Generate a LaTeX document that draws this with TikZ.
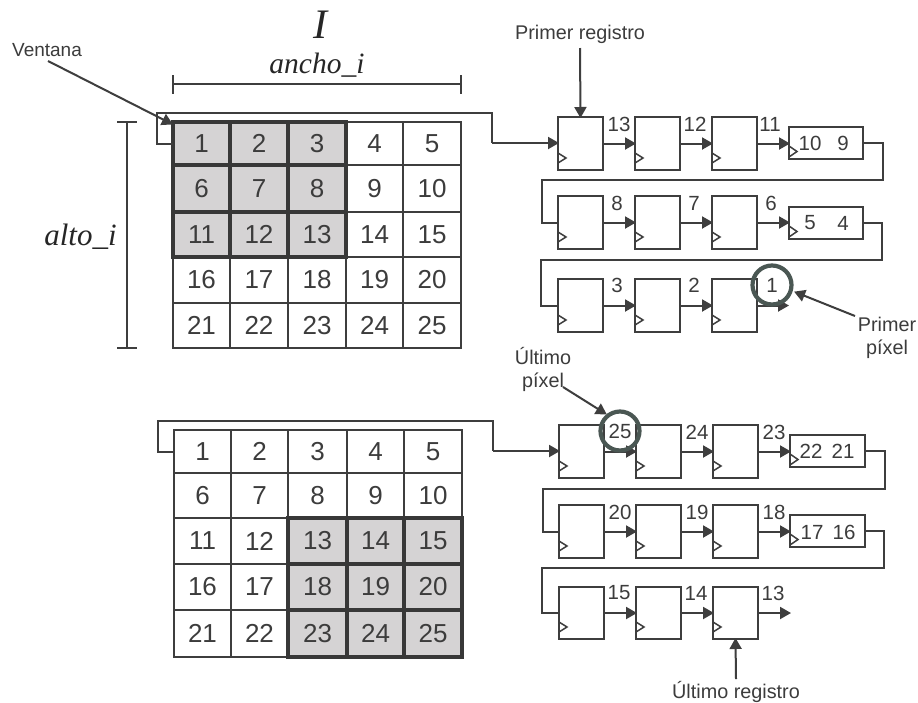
\documentclass[tikz,border=0pt]{standalone}
\usepackage{fontspec}
\setmainfont{Liberation Sans}
\newfontfamily\serifit[Scale=1]{Liberation Serif}
\usetikzlibrary{arrows.meta}
\definecolor{ink}{HTML}{3C3C3C}
\definecolor{lineink}{HTML}{3E3E3E}
\definecolor{cellgrey}{HTML}{D5D3D4}
\definecolor{ringc}{HTML}{4A5753}
\tikzset{
  x=1pt,y=-1pt,
  txt/.style={text=ink,font=\fontsize{19.8}{22}\selectfont,inner sep=0pt},
  num/.style={text=ink,font=\fontsize{20.5}{21}\selectfont,inner sep=0pt},
  wire/.style={draw=lineink,line width=2pt,line join=miter},
  arr/.style={wire,-{Triangle[length=11pt,width=12pt]},shorten >=-1pt},
  ringn/.style={draw=ringc,line width=4.2pt,circle,minimum size=39pt,inner sep=0pt,text=ink,font=\fontsize{20.5}{21}\selectfont},
  boxn/.style={draw=lineink,line width=2pt,anchor=north west,inner sep=0pt,outer sep=0pt,fill=white},
  clk/.style={draw=lineink,line width=1.5pt,fill=none},
  mathl/.style={text=black!85,inner sep=0pt,font=\serifit\itshape}
}
% cell: name, x1,y1,x2,y2, text
\newcommand{\pcell}[6]{\node[draw=lineink,line width=1.8pt,fill=white,inner sep=0pt,outer sep=0pt,anchor=north west,minimum width=#4pt-#2pt,minimum height=#5pt-#3pt,text=ink,font=\fontsize{26}{28}\selectfont] (#1) at (#2,#3) {#6};}
\newcommand{\scell}[6]{\node[draw=black!78,line width=3.4pt,fill=cellgrey,inner sep=0pt,outer sep=0pt,anchor=north west,minimum width=#4pt-#2pt,minimum height=#5pt-#3pt,text=ink,font=\fontsize{26}{28}\selectfont] (#1) at (#2,#3) {#6};}
% register: name, x1, y1, x2, y2
\newcommand{\rgst}[5]{\node[boxn,minimum width=#4pt-#2pt,minimum height=#5pt-#3pt] (#1) at (#2,#3) {};
  \draw[clk] (#2,#5-17) -- (#2+8,#5-12) -- (#2,#5-7);}
\newcommand{\wdrg}[5]{\node[boxn,minimum width=#4pt-#2pt,minimum height=#5pt-#3pt] (#1) at (#2,#3) {};
  \draw[clk] (#2,#3+19) -- (#2+8,#3+24.5) -- (#2,#3+30);}
\begin{document}
\begin{tikzpicture}
\useasboundingbox (0,0) rectangle (918,702);
\fill[white] (0,0) rectangle (918,702);

% ---------- top grid
\pcell{a4}{346}{122}{403}{165}{4}\pcell{a5}{403}{122}{461}{165}{5}
\pcell{a9}{346}{165}{403}{212}{9}\pcell{a10}{403}{165}{461}{212}{10}
\pcell{a14}{346}{212}{403}{257}{14}\pcell{a15}{403}{212}{461}{257}{15}
\pcell{a16}{173}{257}{230}{303}{16}\pcell{a17}{230}{257}{288}{303}{17}\pcell{a18}{288}{257}{346}{303}{18}\pcell{a19}{346}{257}{403}{303}{19}\pcell{a20}{403}{257}{461}{303}{20}
\pcell{a21}{173}{303}{230}{348}{21}\pcell{a22}{230}{303}{288}{348}{22}\pcell{a23}{288}{303}{346}{348}{23}\pcell{a24}{346}{303}{403}{348}{24}\pcell{a25}{403}{303}{461}{348}{25}
\scell{a1}{173}{122}{230}{165}{1}\scell{a2}{230}{122}{288}{165}{2}\scell{a3}{288}{122}{346}{165}{3}
\scell{a6}{173}{165}{230}{212}{6}\scell{a7}{230}{165}{288}{212}{7}\scell{a8}{288}{165}{346}{212}{8}
\scell{a11}{173}{212}{230}{257}{11}\scell{a12}{230}{212}{288}{257}{12}\scell{a13}{288}{212}{346}{257}{13}

% ---------- bottom grid
\pcell{b1}{174}{430}{231}{473}{1}\pcell{b2}{231}{430}{288}{473}{2}\pcell{b3}{288}{430}{347}{473}{3}\pcell{b4}{347}{430}{404}{473}{4}\pcell{b5}{404}{430}{462}{473}{5}
\pcell{b6}{174}{473}{231}{518}{6}\pcell{b7}{231}{473}{288}{518}{7}\pcell{b8}{288}{473}{347}{518}{8}\pcell{b9}{347}{473}{404}{518}{9}\pcell{b10}{404}{473}{462}{518}{10}
\pcell{b11}{174}{518}{231}{564}{11}\pcell{b12}{231}{518}{288}{564}{12}
\pcell{b16}{174}{564}{231}{610}{16}\pcell{b17}{231}{564}{288}{610}{17}
\pcell{b21}{174}{610}{231}{657}{21}\pcell{b22}{231}{610}{288}{657}{22}
\scell{b13}{288}{518}{347}{564}{13}\scell{b14}{347}{518}{404}{564}{14}\scell{b15}{404}{518}{462}{564}{15}
\scell{b18}{288}{564}{347}{610}{18}\scell{b19}{347}{564}{404}{610}{19}\scell{b20}{404}{564}{462}{610}{20}
\scell{b23}{288}{610}{347}{657}{23}\scell{b24}{347}{610}{404}{657}{24}\scell{b25}{404}{610}{462}{657}{25}

% ---------- registers, upper block
\rgst{r1}{558}{117}{603}{170}\rgst{r2}{635}{117}{680}{170}\rgst{r3}{712}{117}{757}{170}\wdrg{r4}{789}{127}{863}{159}
\rgst{r5}{558}{196}{603}{249}\rgst{r6}{635}{196}{680}{249}\rgst{r7}{712}{196}{757}{249}\wdrg{r8}{789}{207}{863}{239}
\rgst{r9}{558}{279}{603}{332}\rgst{r10}{635}{279}{680}{332}\rgst{r11}{712}{279}{757}{332}
% ---------- registers, lower block
\rgst{s1}{559}{425}{604}{478}\rgst{s2}{636}{425}{681}{478}\rgst{s3}{713}{425}{758}{478}\wdrg{s4}{790}{435}{865}{467}
\rgst{s5}{559}{505}{604}{558}\rgst{s6}{636}{505}{681}{558}\rgst{s7}{713}{505}{758}{558}\wdrg{s8}{790}{515}{865}{547}
\rgst{s9}{559}{587}{604}{639}\rgst{s10}{636}{587}{681}{639}\rgst{s11}{713}{587}{758}{639}

% ---------- helper coordinates
\coordinate (ta) at (157,113); \coordinate (tb) at (492,113);
\coordinate (tc) at (492,143);
\coordinate (ua) at (158,421); \coordinate (ub) at (493,421);
\coordinate (uc) at (493,451);
\coordinate (w1) at (883,180); \coordinate (w1l) at (542,180);
\coordinate (w2) at (882,260); \coordinate (w2l) at (541,260);
\coordinate (x1) at (885,489); \coordinate (x1l) at (543,489);
\coordinate (x2) at (884,568); \coordinate (x2l) at (542,568);
\coordinate (o1) at (788,305.5); \coordinate (o2) at (790,613);
\coordinate (vs) at (48,61); \coordinate (vt) at (172,124);
\coordinate (prs) at (580,48); \coordinate (urs) at (736,679);
\coordinate (ppS) at (855,316); \coordinate (ppT) at (795,292);
\coordinate (upS) at (563,387); \coordinate (upT) at (606,414);

% ---------- wires
\draw[wire] (a1.west) -| (ta) -- (tb) -- (tc);
\draw[arr] (tc) -- (r1.west |- tc);
\draw[wire] (b1.west) -| (ua) -- (ub) -- (uc);
\draw[arr] (uc) -- (s1.west |- uc);
\foreach \p/\q in {r1/r2,r2/r3,r3/r4,r5/r6,r6/r7,r7/r8,r9/r10,r10/r11,s2/s3,s3/s4,s5/s6,s6/s7,s7/s8,s9/s10,s10/s11,s1/s2}
  \draw[arr] (\p.east) -- (\q.west |- \p.east);
\draw[arr] (r11.east) -- (o1);
\draw[arr] (s11.east) -- (o2);
\draw[wire] (r4.east) -| (w1) -- (w1l) |- (r5.west);
\draw[wire] (r8.east) -| (w2) -- (w2l) |- (r9.west);
\draw[wire] (s4.east) -| (x1) -- (x1l) |- (s5.west);
\draw[wire] (s8.east) -| (x2) -- (x2l) |- (s9.west);

% ---------- dimensions
\coordinate (da) at (173,84); \coordinate (db) at (461,84);
\coordinate (dc) at (127,122); \coordinate (dd) at (127,348);
\draw[wire] (da) -- (db);
\draw[wire] (173,75) -- (173,94);
\draw[wire] (461,75) -- (461,94);
\draw[wire] (dc) -- (dd);
\draw[wire] (117,122) -- (137,122);
\draw[wire] (117,348) -- (137,348);

% ---------- annotation arrows
\draw[arr] (vs) -- (vt);
\draw[arr] (prs) -- (r1.north);
\draw[arr] (urs) -- (s11.south);
\draw[arr] (ppS) -- (ppT);
\draw[arr] (upS) -- (upT);

% ---------- number labels
\node[num] (n13) at (619,124) {13}; \node[num] (n12) at (695,124) {12}; \node[num] (n11) at (770,124) {11};
\node[num] (n10) at (810,143) {10}; \node[num] (n9) at (843,143) {9};
\node[num] (n8) at (617,203) {8}; \node[num] (n7) at (694,203) {7}; \node[num] (n6) at (771,203) {6};
\node[num] (n5) at (810,223) {5}; \node[num] (n4) at (843,223) {4};
\node[num] (n3) at (617,285) {3}; \node[num] (n2) at (694,285) {2};
\node[num] (m24) at (697,432) {24}; \node[num] (m23) at (774,432) {23};
\node[num] (m22) at (811,451) {22}; \node[num] (m21) at (843,451) {21};
\node[num] (m20) at (620,512) {20}; \node[num] (m19) at (697,512) {19}; \node[num] (m18) at (774,512) {18};
\node[num] (m17) at (812,532) {17}; \node[num] (m16) at (844,532) {16};
\node[num] (m15) at (619,593) {15}; \node[num] (m14) at (696,593) {14}; \node[num] (m13) at (773,593) {13};

% ---------- rings
\node[ringn] (ring1) at (772,285) {1};
\node[ringn] (ring25) at (620,431) {25};

% ---------- texts
\node[txt,font=\fontsize{19}{21}\selectfont] (lv) at (47,50) {Ventana};
\node[txt] (lpr) at (580,34) {Primer registro};
\node[txt,align=center] (lpp) at (887,338) {Primer\\[1pt]píxel};
\node[txt,align=center] (lup) at (543,369) {Último\\[1pt]píxel};
\node[txt] (lur) at (736,692) {Último registro};
\node[mathl,font=\serifit\itshape\fontsize{42}{44}\selectfont] (lI) at (320,25) {I};
\node[mathl,anchor=base,font=\serifit\itshape\fontsize{29.5}{30}\selectfont] (lan) at (317,73) {ancho\_i};
\node[mathl,anchor=base,font=\serifit\itshape\fontsize{31}{30}\selectfont] (lal) at (80.5,245) {alto\_i};
\end{tikzpicture}
\end{document}
